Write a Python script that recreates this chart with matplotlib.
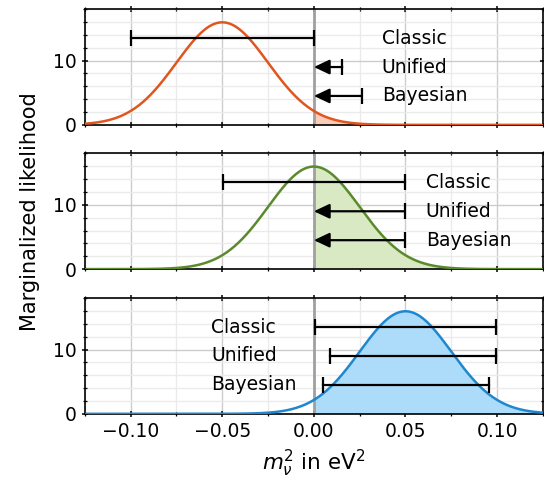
import numpy as np
import matplotlib
matplotlib.use("Agg")
import matplotlib.pyplot as plt
from matplotlib.ticker import MultipleLocator, FixedLocator, FixedFormatter

# likelihood shapes (gaussian centre and width per panel)
means = [-0.05, 0.0, 0.05]
sigma = 0.025
colors = ["#e0561e", "#5b8a2c", "#1f87cf"]
fills = ["#f9cdb8", "#d8e9c3", "#acdcf9"]

methods = ["Classic", "Unified", "Bayesian"]
levels = [13.5, 9.0, 4.5]
# intervals per panel: (lower, upper); lower None -> upper limit only
intervals = [
    [(-0.10, 0.0), (None, 0.0155), (None, 0.026)],
    [(-0.0495, 0.0495), (None, 0.0495), (None, 0.0495)],
    [(0.0005, 0.0993), (0.0088, 0.0993), (0.005, 0.0955)],
]
text_x = [0.037, 0.061, -0.056]

xticks = [-0.10, -0.05, 0.0, 0.05, 0.10]
xticklabels = ["\u22120.10", "\u22120.05", "0.00", "0.05", "0.10"]

plt.rcParams['font.family'] = ['DejaVu Sans']
plt.rcParams['font.size'] = 13.5

fig = plt.figure(figsize=(5.44, 4.84), dpi=100)
L, W = 0.156, 0.842
bottoms = [0.742, 0.444, 0.145]
H = 0.239

x = np.linspace(-0.125, 0.125, 600)
axes = []
for i in range(3):
    ax = fig.add_axes([L, bottoms[i], W, H])
    axes.append(ax)
    y = np.exp(-0.5 * ((x - means[i]) / sigma) ** 2) / (np.sqrt(2 * np.pi) * sigma)
    ax.fill_between(x, 0, y, where=x >= 0, color=fills[i], lw=0, zorder=2)
    ax.plot(x, y, color=colors[i], lw=1.8, zorder=3)
    ax.axvline(0, color="#a0a0a0", lw=2, zorder=2.5)

    for k in range(3):
        lo, hi = intervals[i][k]
        yy = levels[k]
        if lo is None:
            ax.annotate("", xy=(0.0, yy), xytext=(hi, yy),
                        arrowprops=dict(arrowstyle="-|>,head_length=0.7,head_width=0.33",
                                        color="black", lw=1.6, shrinkA=0, shrinkB=0),
                        zorder=5)
            ax.plot([hi], [yy], marker="|", ms=11, mew=1.6, color="black", zorder=5)
        else:
            ax.plot([lo, hi], [yy, yy], color="black", lw=1.6, zorder=5)
            ax.plot([lo, hi], [yy, yy], ls="none", marker="|", ms=11, mew=1.6,
                    color="black", zorder=5)
        ax.text(text_x[i], yy, methods[k], ha="left", va="center", fontsize=13.5, zorder=6)

    ax.set_xlim(-0.125, 0.125)
    ax.set_ylim(0, 18)
    ax.xaxis.set_major_locator(FixedLocator(xticks))
    ax.xaxis.set_minor_locator(MultipleLocator(0.025))
    ax.yaxis.set_major_locator(MultipleLocator(10))
    ax.yaxis.set_minor_locator(MultipleLocator(2))
    ax.grid(which="major", color="#cccccc", lw=1, zorder=0)
    ax.grid(which="minor", color="#ebebeb", lw=1, zorder=0)
    ax.set_axisbelow(True)
    ax.tick_params(which="both", direction="inout", top=True, right=True)
    ax.tick_params(which="major", length=5, width=1.1)
    ax.tick_params(which="minor", length=3, width=0.9)
    for s in ax.spines.values():
        s.set_linewidth(1.2)
    if i < 2:
        ax.set_xticklabels([])
    else:
        ax.xaxis.set_major_formatter(FixedFormatter(xticklabels))
        ax.set_xlabel(r"$m_{\nu}^2$ in eV$^2$", fontsize=15.5, labelpad=5)

fig.text(0.055, 0.562, "Marginalized likelihood", rotation=90, ha="center",
         va="center", fontsize=15)

fig.savefig("out.png", dpi=100)
